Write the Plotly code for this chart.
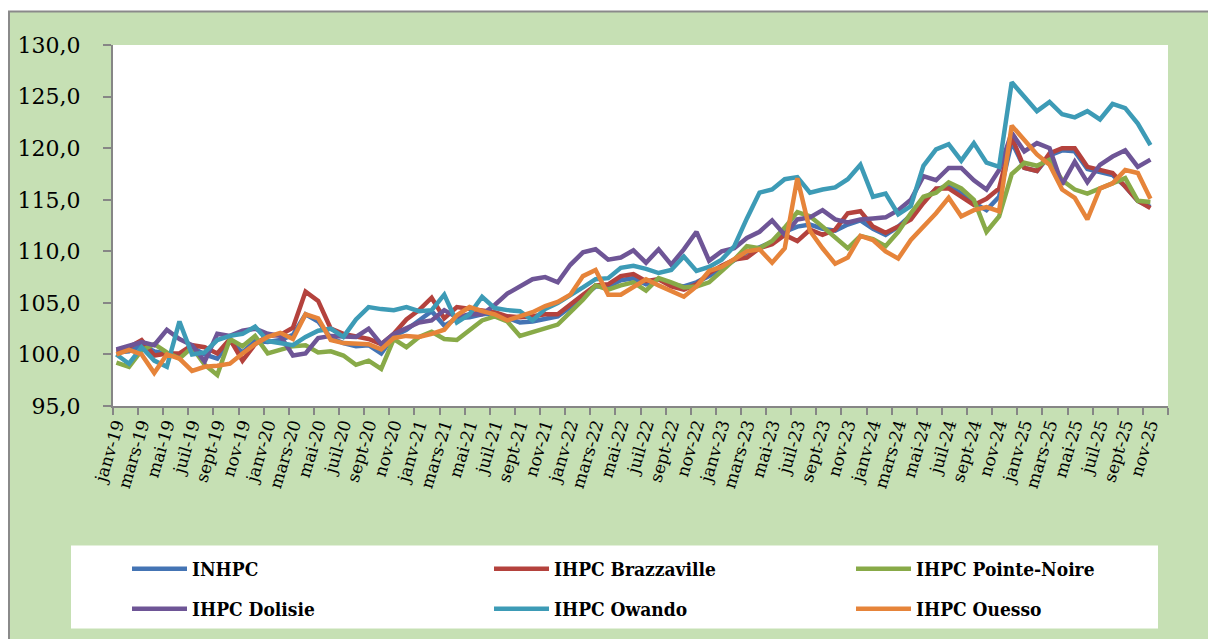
import plotly.graph_objects as go

# ---------------- data ----------------
abbr = ["janv", "févr", "mars", "avr", "mai", "juin", "juil", "août", "sept", "oct", "nov", "déc"]
months = [f"{m}-{y}" for y in range(19, 26) for m in abbr][:83]   # janv-19 .. nov-25

inhpc = [100.2, 100.3, 100.9, 100.3, 100.1, 100.0, 100.7, 100.0, 99.6, 101.3,
         100.2, 101.3, 101.2, 101.4, 101.9, 103.9, 103.2, 101.6, 101.1, 100.8,
         100.9, 100.1, 101.8, 102.4, 103.3, 104.2, 102.8, 103.5, 103.6, 103.9,
         104.0, 103.5, 103.1, 103.2, 103.5, 103.7, 104.6, 105.6, 106.6, 106.6,
         107.2, 107.4, 106.8, 107.3, 106.8, 106.6, 107.0, 107.6, 108.4, 109.2,
         109.9, 110.4, 110.9, 111.9, 112.4, 112.6, 112.2, 112.0, 112.6, 113.0,
         112.2, 111.6, 112.4, 113.5, 115.0, 116.0, 116.4, 115.6, 114.7, 114.0,
         115.3, 120.6, 118.1, 117.8, 119.3, 119.8, 119.7, 118.0, 117.7, 117.4,
         116.3, 114.9, 114.3]

brazzaville = [100.4, 100.7, 101.4, 99.9, 100.1, 100.1, 100.9, 100.7, 100.1, 101.5,
               99.4, 101.0, 101.8, 101.9, 102.6, 106.1, 105.2, 102.5, 102.0, 101.8,
               101.5, 101.0, 102.0, 103.4, 104.3, 105.5, 103.5, 104.6, 104.4, 104.2,
               104.1, 103.7, 103.6, 103.7, 103.9, 103.9, 104.9, 105.8, 106.7, 106.8,
               107.6, 107.8, 107.1, 107.3, 106.6, 106.3, 106.8, 107.9, 108.6, 109.2,
               109.4, 110.3, 110.7, 111.6, 111.0, 112.1, 111.6, 112.1, 113.7, 113.9,
               112.4, 111.8, 112.4, 113.1, 114.7, 116.1, 116.1, 115.3, 114.5, 115.1,
               116.1, 121.1, 118.1, 117.8, 119.5, 120.0, 120.0, 118.2, 117.9, 117.6,
               116.3, 114.9, 114.2]

pointe_noire = [99.2, 98.8, 100.4, 101.0, 100.2, 99.6, 100.7, 99.0, 98.0, 101.5,
                100.8, 101.8, 100.1, 100.5, 100.8, 100.9, 100.2, 100.3, 99.9, 99.0,
                99.4, 98.6, 101.5, 100.7, 101.7, 102.2, 101.5, 101.4, 102.3, 103.3,
                103.7, 103.2, 101.8, 102.2, 102.5, 102.9, 104.1, 105.3, 106.7, 106.3,
                106.7, 107.0, 106.2, 107.4, 107.0, 106.5, 106.6, 107.0, 108.1, 109.2,
                110.5, 110.3, 111.0, 112.3, 113.8, 113.4, 112.4, 111.3, 110.3, 111.5,
                111.2, 110.5, 111.9, 113.7, 115.3, 115.7, 116.7, 116.1, 115.0, 111.9,
                113.4, 117.5, 118.6, 118.3, 118.9, 116.9, 116.0, 115.6, 116.1, 116.5,
                117.1, 114.9, 114.8]

dolisie = [100.5, 100.8, 101.2, 100.9, 102.4, 101.5, 100.9, 99.3, 102.0, 101.8,
           102.3, 102.5, 102.0, 101.8, 99.9, 100.1, 101.6, 101.8, 101.7, 101.7,
           102.5, 101.0, 102.0, 102.5, 103.1, 103.3, 104.3, 103.6, 103.9, 103.9,
           104.8, 105.9, 106.6, 107.3, 107.5, 107.0, 108.7, 109.9, 110.2, 109.2,
           109.4, 110.1, 108.9, 110.2, 108.7, 110.2, 111.9, 109.1, 110.0, 110.3,
           111.3, 111.9, 113.0, 111.6, 113.1, 113.3, 114.0, 113.1, 112.8, 113.1,
           113.2, 113.3, 114.0, 115.0, 117.3, 116.9, 118.1, 118.1, 116.9, 116.0,
           117.9, 121.5, 119.7, 120.5, 120.0, 116.5, 118.7, 116.7, 118.4, 119.2,
           119.8, 118.2, 118.9]

owando = [100.0, 99.1, 100.7, 99.4, 98.8, 103.2, 100.0, 100.2, 101.4, 101.8,
          102.0, 102.7, 101.3, 101.1, 100.9, 101.7, 102.3, 102.5, 101.7, 103.4,
          104.6, 104.4, 104.3, 104.6, 104.2, 104.3, 105.8, 103.1, 103.9, 105.6,
          104.5, 104.3, 104.2, 103.3, 104.4, 105.0, 105.7, 106.5, 107.3, 107.4,
          108.4, 108.6, 108.3, 107.9, 108.2, 109.5, 108.1, 108.5, 109.2, 110.5,
          113.2, 115.7, 116.0, 117.0, 117.2, 115.7, 116.0, 116.2, 117.0, 118.4,
          115.3, 115.6, 113.6, 114.4, 118.3, 119.9, 120.4, 118.8, 120.5, 118.6,
          118.2, 126.4, 125.0, 123.6, 124.5, 123.3, 123.0, 123.6, 122.8, 124.3,
          123.9, 122.4, 120.3]

ouesso = [100.0, 100.45, 100.0, 98.2, 100.0, 99.6, 98.4, 98.8, 98.9, 99.1,
          100.1, 101.0, 101.7, 102.1, 101.5, 103.9, 103.5, 101.4, 101.1, 101.0,
          101.0, 100.5, 101.6, 101.8, 101.7, 102.0, 102.4, 103.8, 104.6, 104.2,
          103.9, 103.3, 103.7, 104.1, 104.7, 105.1, 105.8, 107.6, 108.2, 105.8,
          105.8, 106.5, 107.3, 106.7, 106.1, 105.6, 106.6, 108.1, 108.5, 109.2,
          110.0, 110.2, 108.9, 110.3, 117.1, 112.0, 110.3, 108.8, 109.4, 111.5,
          111.1, 110.0, 109.3, 111.1, 112.4, 113.7, 115.2, 113.4, 114.0, 114.3,
          113.9, 122.2, 120.8, 119.4, 118.4, 116.0, 115.2, 113.1, 116.1, 116.6,
          117.9, 117.6, 115.1]

series = [
    ("INHPC", inhpc, "#4474b4", "legend", 292),
    ("IHPC Brazzaville", brazzaville, "#b4423d", "legend", 292),
    ("IHPC Pointe-Noire", pointe_noire, "#88aa48", "legend", 200),
    ("IHPC Dolisie", dolisie, "#6e5596", "legend2", 292),
    ("IHPC Owando", owando, "#3d9bb6", "legend2", 292),
    ("IHPC Ouesso", ouesso, "#e6843a", "legend2", 200),
]

# ---------------- figure ----------------
W, H = 1208, 639
ML, MR, MT, MB = 113, 40, 45, 639 - 407
PW, PH = W - ML - MR, H - MT - MB


def px(x):                    # page pixel -> paper x
    return (x - ML) / PW


def py(y):                    # page pixel -> paper y
    return (H - MB - y) / PH


xs = list(range(len(months)))
X0 = -0.27
STEP = 1.992
X1 = X0 + 42 * STEP
minor_vals = [X0 + k * STEP for k in range(43)]

fig = go.Figure()
for name, vals, color, lg, lw in series:
    fig.add_trace(go.Scatter(x=xs, y=vals, mode="lines", name=name,
                             line=dict(color=color, width=4.5), legend=lg, legendwidth=lw))

grey = "#868686"
green = "#c6e0b4"
shapes = [
    dict(type="rect", xref="paper", yref="paper", x0=px(9), x1=px(1230), y0=py(660), y1=py(11.5),
         fillcolor=green, line=dict(width=0), layer="below"),
    dict(type="rect", xref="paper", yref="paper", x0=0, x1=1, y0=0, y1=1,
         fillcolor="white", line=dict(width=0), layer="below"),
    dict(type="rect", xref="paper", yref="paper", x0=px(71), x1=px(1158), y0=py(630), y1=py(547),
         fillcolor="white", line=dict(width=0), layer="below"),
    dict(type="line", xref="paper", yref="paper", x0=px(9), x1=px(9), y0=py(660), y1=py(11),
         line=dict(color="#8a8a8a", width=2)),
    dict(type="line", xref="paper", yref="paper", x0=px(8), x1=px(1230), y0=py(11.5), y1=py(11.5),
         line=dict(color="#8a8a8a", width=2)),
]

legend_font = dict(family="DejaVu Serif Condensed, DejaVu Serif", size=19, color="black", weight="bold")
common_legend = dict(orientation="h", xanchor="left", yanchor="middle", bgcolor="rgba(0,0,0,0)",
                     borderwidth=0, font=legend_font, itemwidth=55, entrywidth=292,
                     entrywidthmode="pixels", traceorder="normal", itemclick=False)

fig.update_layout(
    width=W, height=H,
    margin=dict(l=ML, r=MR, t=MT, b=MB, pad=0),
    paper_bgcolor="white", plot_bgcolor="rgba(0,0,0,0)",
    separators=", ",
    showlegend=True,
    hovermode=False,
    shapes=shapes,
    xaxis=dict(range=[X0, X1], tickmode="array", tickvals=xs[::2], ticktext=months[::2],
               tickangle=-73, ticks="", showline=True, linecolor=grey, linewidth=2,
               showgrid=False, zeroline=False, automargin=False,
               tickfont=dict(family="DejaVu Serif", size=17, color="black"),
               minor=dict(tickmode="array", tickvals=minor_vals, ticks="outside", ticklen=7,
                          tickcolor=grey, tickwidth=2, showgrid=False)),
    yaxis=dict(range=[95, 130.02], tickmode="linear", tick0=95, dtick=5, tickformat=".1f",
               ticks="outside", ticklen=8, tickcolor=grey, tickwidth=2, automargin=False,
               showline=True, linecolor=grey, linewidth=2, showgrid=False, zeroline=False,
               tickfont=dict(family="DejaVu Serif", size=22, color="black"), ticklabelstandoff=18),
    legend=dict(common_legend, x=px(127), y=py(569)),
    legend2=dict(common_legend, x=px(127), y=py(609)),
)

fig.write_html("out.html",
               config={"displayModeBar": False, "staticPlot": True},
               post_script="document.body.style.margin='0';document.body.style.overflow='hidden';")
